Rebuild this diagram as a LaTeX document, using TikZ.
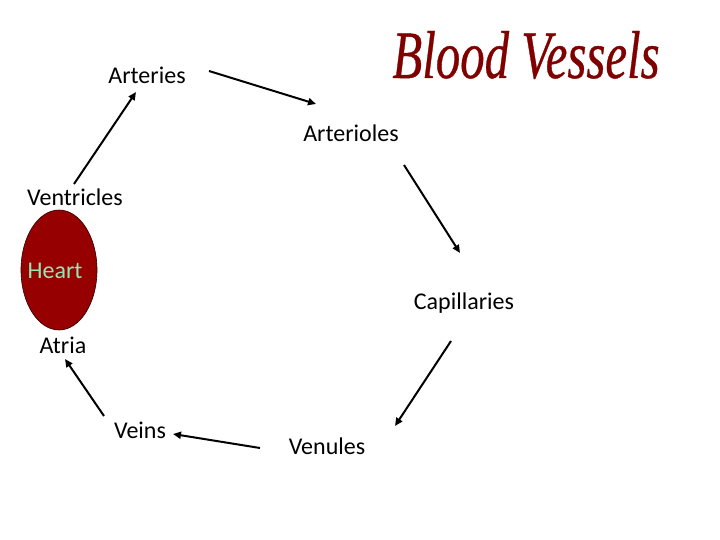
\documentclass[tikz,border=0pt]{standalone}
\usepackage{fontspec}
\setmainfont{Carlito}
\newfontfamily\titlefont[FakeBold=0.6]{Liberation Serif}
\usetikzlibrary{arrows.meta,shapes.geometric}
\definecolor{titlered}{RGB}{128,0,0}
\definecolor{heartred}{RGB}{150,0,0}
\definecolor{heartgreen}{RGB}{150,230,180}
\tikzset{
  lbl/.style={font=\fontsize{24}{28}\selectfont, inner sep=0pt},
  flow/.style={line width=2pt, -{Triangle[length=8pt,width=7pt]}},
}
\begin{document}
\begin{tikzpicture}[x=1pt,y=-1pt]
\useasboundingbox[fill=white] (0,0) rectangle (720,540);
\node[text=titlered, inner sep=0pt, anchor=base] (title) at (526,78) {\resizebox{267pt}{47pt}{\titlefont\itshape Blood Vessels}};
\node[lbl] (arteries) at (147,75) {Arteries};
\node[lbl] (arterioles) at (351,133) {Arterioles};
\node[lbl] (ventricles) at (75,197) {Ventricles};
\node[ellipse, draw=black!70!heartred, line width=0.6pt, fill=heartred, minimum width=76, minimum height=120, inner sep=0pt] (heart) at (59,270) {};
\node[lbl, text=heartgreen] (hearttext) at (55,271) {Heart};
\node[lbl] (capillaries) at (464,303) {Capillaries};
\node[lbl] (atria) at (63,345) {Atria};
\node[lbl] (veins) at (140,430) {Veins};
\node[lbl] (venules) at (327,446) {Venules};
\coordinate (a1) at (209,71); \coordinate (b1) at (316,104);
\coordinate (a2) at (404,165); \coordinate (b2) at (460,253);
\coordinate (a3) at (451,341); \coordinate (b3) at (395,426);
\coordinate (a4) at (260,448); \coordinate (b4) at (173,434);
\coordinate (a5) at (104,416); \coordinate (b5) at (65,359);
\coordinate (a6) at (74,184); \coordinate (b6) at (136,92);
\draw[flow] (a1) -- (b1);
\draw[flow] (a2) -- (b2);
\draw[flow] (a3) -- (b3);
\draw[flow] (a4) -- (b4);
\draw[flow] (a5) -- (b5);
\draw[flow] (a6) -- (b6);
\end{tikzpicture}
\end{document}
